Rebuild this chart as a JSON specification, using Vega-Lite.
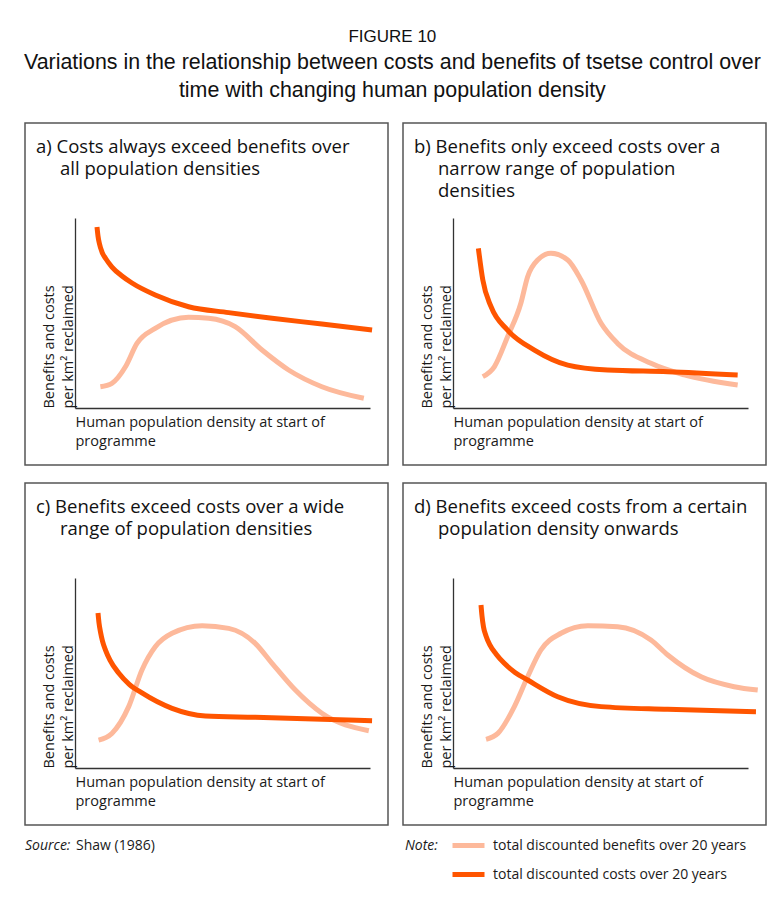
{
  "$schema": "https://vega.github.io/schema/vega-lite/v6.json",
  "background": "white",
  "padding": {"left": 23, "top": 27, "right": 10, "bottom": 10},
  "title": {
    "text": "FIGURE 10",
    "subtitle": ["Variations in the relationship between costs and benefits of tsetse control over", "time with changing human population density"],
    "anchor": "middle",
    "frame": "bounds",
    "dx": -4,
    "offset": 20,
    "font": "Liberation Sans",
    "fontSize": 17,
    "fontWeight": "normal",
    "color": "#111111",
    "subtitleFont": "Liberation Sans",
    "subtitleFontSize": 21.4,
    "subtitleColor": "#111111",
    "subtitlePadding": 6,
    "subtitleLineHeight": 28,
    "baseline": "top"
  },
  "data": {
    "values": [
      {"p": "a", "s": "benefits", "x": 8.6, "y": 11.2},
      {"p": "a", "s": "benefits", "x": 12.5, "y": 13},
      {"p": "a", "s": "benefits", "x": 17.1, "y": 21.7},
      {"p": "a", "s": "benefits", "x": 21, "y": 34},
      {"p": "a", "s": "benefits", "x": 27.2, "y": 41.9},
      {"p": "a", "s": "benefits", "x": 38.5, "y": 47.7},
      {"p": "a", "s": "benefits", "x": 45.3, "y": 47.2},
      {"p": "a", "s": "benefits", "x": 54.3, "y": 42.8},
      {"p": "a", "s": "benefits", "x": 63.4, "y": 30.5},
      {"p": "a", "s": "benefits", "x": 72.4, "y": 20},
      {"p": "a", "s": "benefits", "x": 83.7, "y": 11.2},
      {"p": "a", "s": "benefits", "x": 97.9, "y": 5.1},
      {"p": "a", "s": "costs", "x": 7.46, "y": 95.3},
      {"p": "a", "s": "costs", "x": 7.8, "y": 90.5},
      {"p": "a", "s": "costs", "x": 8.31, "y": 86.3},
      {"p": "a", "s": "costs", "x": 9.15, "y": 82.1},
      {"p": "a", "s": "costs", "x": 10.5, "y": 78.4},
      {"p": "a", "s": "costs", "x": 12.54, "y": 74.2},
      {"p": "a", "s": "costs", "x": 15.93, "y": 69.5},
      {"p": "a", "s": "costs", "x": 19.32, "y": 65.8},
      {"p": "a", "s": "costs", "x": 27.2, "y": 59.5},
      {"p": "a", "s": "costs", "x": 38.5, "y": 53.3},
      {"p": "a", "s": "costs", "x": 52.1, "y": 50.2},
      {"p": "a", "s": "costs", "x": 66.8, "y": 47.2},
      {"p": "a", "s": "costs", "x": 83.7, "y": 44.2},
      {"p": "a", "s": "costs", "x": 100.7, "y": 41},
      {"p": "b", "s": "benefits", "x": 10.1, "y": 16.5},
      {"p": "b", "s": "benefits", "x": 14, "y": 21.7},
      {"p": "b", "s": "benefits", "x": 18.5, "y": 37.5},
      {"p": "b", "s": "benefits", "x": 23, "y": 55.1},
      {"p": "b", "s": "benefits", "x": 25.3, "y": 69.1},
      {"p": "b", "s": "benefits", "x": 28.7, "y": 77.9},
      {"p": "b", "s": "benefits", "x": 33.2, "y": 81.4},
      {"p": "b", "s": "benefits", "x": 38.9, "y": 77.9},
      {"p": "b", "s": "benefits", "x": 43.4, "y": 67.4},
      {"p": "b", "s": "benefits", "x": 50.2, "y": 44.6},
      {"p": "b", "s": "benefits", "x": 55.8, "y": 34},
      {"p": "b", "s": "benefits", "x": 67.1, "y": 23.5},
      {"p": "b", "s": "benefits", "x": 78.4, "y": 17.4},
      {"p": "b", "s": "benefits", "x": 96.5, "y": 12.1},
      {"p": "b", "s": "costs", "x": 8.6, "y": 84},
      {"p": "b", "s": "costs", "x": 10.1, "y": 67.4},
      {"p": "b", "s": "costs", "x": 12.9, "y": 53.3},
      {"p": "b", "s": "costs", "x": 18.5, "y": 41},
      {"p": "b", "s": "costs", "x": 27.6, "y": 30.5},
      {"p": "b", "s": "costs", "x": 38.9, "y": 22.6},
      {"p": "b", "s": "costs", "x": 52.4, "y": 20},
      {"p": "b", "s": "costs", "x": 72.8, "y": 19.1},
      {"p": "b", "s": "costs", "x": 96.5, "y": 17.4},
      {"p": "c", "s": "benefits", "x": 8, "y": 14.7},
      {"p": "c", "s": "benefits", "x": 12.5, "y": 18.2},
      {"p": "c", "s": "benefits", "x": 18.2, "y": 32.3},
      {"p": "c", "s": "benefits", "x": 22.7, "y": 51.6},
      {"p": "c", "s": "benefits", "x": 27.2, "y": 63.8},
      {"p": "c", "s": "benefits", "x": 32.9, "y": 70.9},
      {"p": "c", "s": "benefits", "x": 43.1, "y": 74.9},
      {"p": "c", "s": "benefits", "x": 52.1, "y": 73.5},
      {"p": "c", "s": "benefits", "x": 61.1, "y": 65.6},
      {"p": "c", "s": "benefits", "x": 66.8, "y": 55.1},
      {"p": "c", "s": "benefits", "x": 74.7, "y": 41},
      {"p": "c", "s": "benefits", "x": 83.7, "y": 28.8},
      {"p": "c", "s": "benefits", "x": 99.6, "y": 19.6},
      {"p": "c", "s": "costs", "x": 7.8, "y": 81.6},
      {"p": "c", "s": "costs", "x": 8.14, "y": 76.3},
      {"p": "c", "s": "costs", "x": 8.64, "y": 71.6},
      {"p": "c", "s": "costs", "x": 9.32, "y": 66.8},
      {"p": "c", "s": "costs", "x": 10.34, "y": 62.1},
      {"p": "c", "s": "costs", "x": 11.86, "y": 56.8},
      {"p": "c", "s": "costs", "x": 14.8, "y": 50},
      {"p": "c", "s": "costs", "x": 18.3, "y": 44.2},
      {"p": "c", "s": "costs", "x": 22.7, "y": 39.5},
      {"p": "c", "s": "costs", "x": 32.9, "y": 31.4},
      {"p": "c", "s": "costs", "x": 44.2, "y": 27.4},
      {"p": "c", "s": "costs", "x": 61.1, "y": 26.7},
      {"p": "c", "s": "costs", "x": 83.7, "y": 25.6},
      {"p": "c", "s": "costs", "x": 100.7, "y": 24.9},
      {"p": "d", "s": "benefits", "x": 11.2, "y": 15.1},
      {"p": "d", "s": "benefits", "x": 15.2, "y": 18.2},
      {"p": "d", "s": "benefits", "x": 20.8, "y": 32.3},
      {"p": "d", "s": "benefits", "x": 25.3, "y": 48},
      {"p": "d", "s": "benefits", "x": 29.8, "y": 62.1},
      {"p": "d", "s": "benefits", "x": 36.6, "y": 70.9},
      {"p": "d", "s": "benefits", "x": 45.7, "y": 74.9},
      {"p": "d", "s": "benefits", "x": 55.8, "y": 74.4},
      {"p": "d", "s": "benefits", "x": 67.1, "y": 67.4},
      {"p": "d", "s": "benefits", "x": 72.8, "y": 59.5},
      {"p": "d", "s": "benefits", "x": 84.1, "y": 48},
      {"p": "d", "s": "benefits", "x": 95.3, "y": 42.8},
      {"p": "d", "s": "benefits", "x": 103.3, "y": 41},
      {"p": "d", "s": "costs", "x": 9.49, "y": 85.8},
      {"p": "d", "s": "costs", "x": 9.83, "y": 80},
      {"p": "d", "s": "costs", "x": 10.34, "y": 74.2},
      {"p": "d", "s": "costs", "x": 11.19, "y": 69.5},
      {"p": "d", "s": "costs", "x": 12.54, "y": 64.7},
      {"p": "d", "s": "costs", "x": 14.58, "y": 60},
      {"p": "d", "s": "costs", "x": 17.39, "y": 55.1},
      {"p": "d", "s": "costs", "x": 21.02, "y": 50.3},
      {"p": "d", "s": "costs", "x": 25.32, "y": 46.3},
      {"p": "d", "s": "costs", "x": 35.5, "y": 37.5},
      {"p": "d", "s": "costs", "x": 50.2, "y": 32.3},
      {"p": "d", "s": "costs", "x": 72.8, "y": 30.9},
      {"p": "d", "s": "costs", "x": 102.7, "y": 29.6}
    ]
  },
  "spacing": 16,
  "resolve": {"scale": {"color": "shared", "strokeDash": "shared"}, "legend": {"color": "shared", "strokeDash": "shared"}},
  "vconcat": [
    {
      "spacing": 13,
      "resolve": {"scale": {"color": "shared", "strokeDash": "shared"}, "legend": {"color": "shared", "strokeDash": "shared"}},
      "hconcat": [
        {
          "width": 363, "height": 342,
          "title": {"text": ["a) Costs always exceed benefits over", "\u200b\u00a0\u00a0\u00a0\u00a0\u00a0all population densities"], "offset": -55},
          "transform": [{"filter": "datum.p == 'a'"}],
          "mark": {"type": "line", "interpolate": "monotone", "strokeWidth": 5},
          "encoding": {
            "x": {"field": "x", "type": "quantitative", "scale": {"domain": [0, 100], "range": [50, 345], "nice": false, "zero": false}, "axis": {"title": ["Human population density at start of", "programme"]}},
            "y": {"field": "y", "type": "quantitative", "scale": {"domain": [0, 100], "range": [285, 95], "nice": false, "zero": false}, "axis": {"title": ["Benefits and costs", "per km² reclaimed"]}},
            "color": {"field": "s", "type": "nominal", "scale": {"domain": ["benefits", "costs"], "range": ["#FDB99B", "#FF5500"]}, "legend": {"title": "Note:", "labelExpr": "datum.label == 'benefits' ? 'total discounted benefits over 20 years' : 'total discounted costs over 20 years'", "orient": "none", "legendX": 380, "legendY": 704, "titlePadding": 12, "titleAnchor": "start", "titleBaseline": "line-top", "titleLineHeight": 38, "labelOffset": 6, "rowPadding": -9}},
            "strokeDash": {"field": "src", "type": "nominal", "scale": {"domain": ["Shaw (1986)"], "range": [[1, 0]]}, "legend": {"title": "Source:", "orient": "none", "legendX": 0, "legendY": 716, "symbolOpacity": 0, "symbolSize": 1, "symbolStrokeWidth": 0, "labelOffset": -14}}
          }
        },
        {
          "width": 363, "height": 342,
          "title": {"text": ["b) Benefits only exceed costs over a", "\u200b\u00a0\u00a0\u00a0\u00a0\u00a0narrow range of population", "\u200b\u00a0\u00a0\u00a0\u00a0\u00a0densities"], "offset": -77},
          "transform": [{"filter": "datum.p == 'b'"}],
          "mark": {"type": "line", "interpolate": "monotone", "strokeWidth": 5},
          "encoding": {
            "x": {"field": "x", "type": "quantitative", "scale": {"domain": [0, 100], "range": [50, 345], "nice": false, "zero": false}, "axis": {"title": ["Human population density at start of", "programme"]}},
            "y": {"field": "y", "type": "quantitative", "scale": {"domain": [0, 100], "range": [285, 95], "nice": false, "zero": false}, "axis": {"title": ["Benefits and costs", "per km² reclaimed"]}},
            "color": {"field": "s", "type": "nominal", "scale": {"domain": ["benefits", "costs"], "range": ["#FDB99B", "#FF5500"]}},
            "strokeDash": {"field": "src", "type": "nominal", "scale": {"domain": ["Shaw (1986)"], "range": [[1, 0]]}}
          }
        }
      ]
    },
    {
      "spacing": 13,
      "resolve": {"scale": {"color": "shared", "strokeDash": "shared"}, "legend": {"color": "shared", "strokeDash": "shared"}},
      "hconcat": [
        {
          "width": 363, "height": 342,
          "title": {"text": ["c) Benefits exceed costs over a wide", "\u200b\u00a0\u00a0\u00a0\u00a0\u00a0range of population densities"], "offset": -55},
          "transform": [{"filter": "datum.p == 'c'"}],
          "mark": {"type": "line", "interpolate": "monotone", "strokeWidth": 5},
          "encoding": {
            "x": {"field": "x", "type": "quantitative", "scale": {"domain": [0, 100], "range": [50, 345], "nice": false, "zero": false}, "axis": {"title": ["Human population density at start of", "programme"]}},
            "y": {"field": "y", "type": "quantitative", "scale": {"domain": [0, 100], "range": [285, 95], "nice": false, "zero": false}, "axis": {"title": ["Benefits and costs", "per km² reclaimed"]}},
            "color": {"field": "s", "type": "nominal", "scale": {"domain": ["benefits", "costs"], "range": ["#FDB99B", "#FF5500"]}},
            "strokeDash": {"field": "src", "type": "nominal", "scale": {"domain": ["Shaw (1986)"], "range": [[1, 0]]}}
          }
        },
        {
          "width": 363, "height": 342,
          "title": {"text": ["d) Benefits exceed costs from a certain", "\u200b\u00a0\u00a0\u00a0\u00a0\u00a0population density onwards"], "offset": -55},
          "transform": [{"filter": "datum.p == 'd'"}],
          "mark": {"type": "line", "interpolate": "monotone", "strokeWidth": 5},
          "encoding": {
            "x": {"field": "x", "type": "quantitative", "scale": {"domain": [0, 100], "range": [50, 345], "nice": false, "zero": false}, "axis": {"title": ["Human population density at start of", "programme"]}},
            "y": {"field": "y", "type": "quantitative", "scale": {"domain": [0, 100], "range": [285, 95], "nice": false, "zero": false}, "axis": {"title": ["Benefits and costs", "per km² reclaimed"]}},
            "color": {"field": "s", "type": "nominal", "scale": {"domain": ["benefits", "costs"], "range": ["#FDB99B", "#FF5500"]}},
            "strokeDash": {"field": "src", "type": "nominal", "scale": {"domain": ["Shaw (1986)"], "range": [[1, 0]]}}
          }
        }
      ]
    }
  ],
  "config": {
    "view": {"stroke": "#555555", "strokeWidth": 1.5},
    "title": {
      "anchor": "start",
      "frame": "group",
      "font": "Open Sans",
      "fontSize": 18.5,
      "fontWeight": "normal",
      "lineHeight": 22,
      "color": "#111111",
      "dx": 11,
      "baseline": "top"
    },
    "axis": {
      "ticks": false,
      "labels": false,
      "grid": false,
      "domainColor": "#333333",
      "domainWidth": 1.3,
      "titleFont": "Open Sans",
      "titleFontSize": 14.5,
      "titleFontWeight": "normal",
      "titleColor": "#1a1a1a",
      "titleLineHeight": 19
    },
    "axisX": {"offset": -57, "titleAnchor": "start", "titleAlign": "left", "titleBaseline": "top", "titlePadding": 7},
    "axisY": {"offset": -50, "titleAnchor": "start", "titleAlign": "left", "titleAngle": 270, "titleBaseline": "bottom", "titlePadding": 0},
    "legend": {
      "symbolType": "stroke",
      "symbolStrokeWidth": 5,
      "symbolSize": 1024,
      "titleOrient": "left",
      "titleFont": "Open Sans",
      "titleFontSize": 14,
      "titleFontWeight": "normal",
      "titleFontStyle": "italic",
      "titleColor": "#1a1a1a",
      "labelFont": "Open Sans",
      "labelFontSize": 14,
      "labelColor": "#1a1a1a",
      "labelLimit": 400
    }
  }
}
